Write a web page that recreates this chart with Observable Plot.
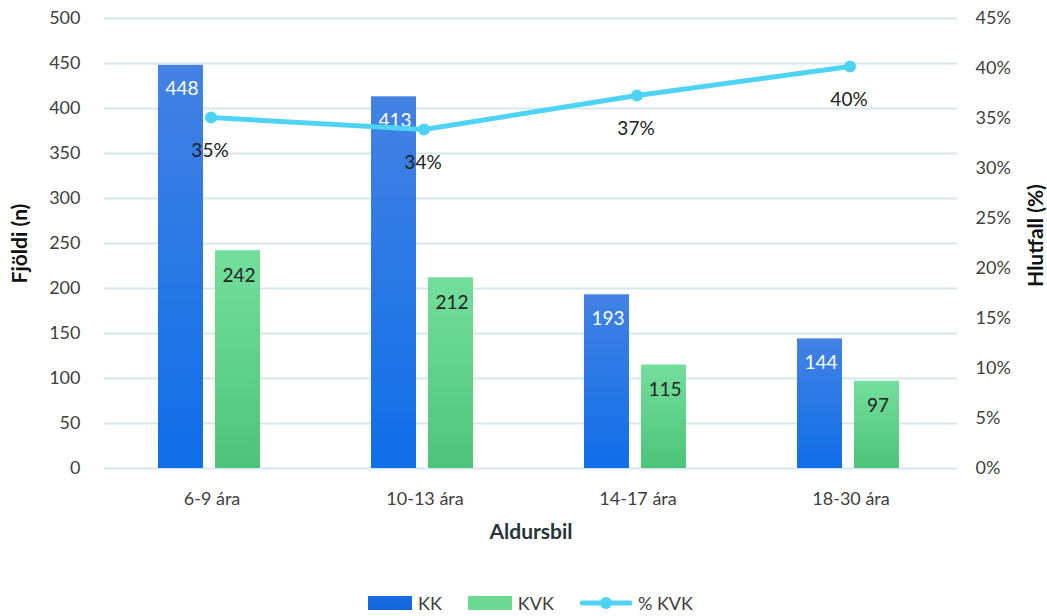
<!DOCTYPE html>
<html><head><meta charset="utf-8">
<script src="https://cdn.jsdelivr.net/npm/d3@7"></script>
<script src="https://cdn.jsdelivr.net/npm/@observablehq/plot@0.6"></script>
<style>
body{margin:0;background:#fff;font-family:Lato,"Open Sans",sans-serif}
#legend{display:flex;justify-content:center;align-items:center;gap:26px;height:36px;font-size:18px;color:#404040;padding-left:14px;padding-top:5px}
.li{display:flex;align-items:center;gap:6px}
.sw{width:44px;height:14px}
</style>
</head><body>
<div id="chart"></div>
<div id="legend"></div>
<script>
const categories = ["6-9 ára","10-13 ára","14-17 ára","18-30 ára"];
const kk = [448,413,193,144];
const kvk = [242,212,115,97];
const pctKvk = [35.1,33.9,37.3,40.2];
const pctLabels = ["35%","34%","37%","40%"];
const yTicks = [0,50,100,150,200,250,300,350,400,450,500];
const pctTicks = [0,5,10,15,20,25,30,35,40,45];
const seriesNames = ["KK","KVK","% KVK"];

const k = 500/45; // right axis (%) mapped onto left axis scale
const rows = categories.map((c,i)=>({cat:c, kk:kk[i], kvk:kvk[i], pct:pctKvk[i]*k, plabel:pctLabels[i]}));

const chart = Plot.plot({
  width:1047, height:580,
  marginLeft:104, marginRight:90, marginTop:18, marginBottom:112,
  style:{fontFamily:"Lato, 'Open Sans', sans-serif", fontSize:"18px", color:"#404040", background:"#fff"},
  x:{domain:categories, padding:0, label:null},
  y:{domain:[0,500], label:null},
  marks:[
    Plot.gridY(yTicks,{stroke:"#d5e7eb", strokeOpacity:1, strokeWidth:2}),
    Plot.barY(rows,{x:"cat", y:"kk", fill:"url(#gKK)", insetLeft:53, insetRight:115}),
    Plot.barY(rows,{x:"cat", y:"kvk", fill:"url(#gKVK)", insetLeft:110, insetRight:58}),
    Plot.text(rows,{x:"cat", y:"kk", text:d=>String(d.kk), dx:-30, dy:24, fill:"#fff", fontSize:19}),
    Plot.text(rows,{x:"cat", y:"kvk", text:d=>String(d.kvk), dx:27, dy:25, fill:"#222", fontSize:19}),
    Plot.line(rows,{x:"cat", y:"pct", stroke:"#4fd3f5", strokeWidth:5, dx:-1}),
    Plot.dot(rows,{x:"cat", y:"pct", r:6, fill:"#4fd3f5", dx:-1}),
    Plot.text(rows,{x:"cat", y:"pct", text:"plabel", dy:33, dx:-2, fill:"#222", fontSize:19}),
    Plot.axisY(yTicks,{anchor:"left", tickSize:0, tickPadding:24, label:null, fontSize:18, fill:"#404040"}),
    Plot.axisY(pctTicks.map(t=>t*k),{anchor:"right", tickSize:0, tickPadding:18, label:null, tickFormat:(d,i)=>pctTicks[i]+"%", fontSize:18, fill:"#404040", textAnchor:"start"}),
    Plot.axisX({tickSize:0, tickPadding:24, label:null, fontSize:18, fill:"#404040"}),
    Plot.text(["Aldursbil"],{frameAnchor:"bottom", dy:70, textAnchor:"middle", fontWeight:"bold", fontSize:21, fill:"#26343c"}),
    Plot.text(["Fjöldi (n)"],{frameAnchor:"left", dx:-84, rotate:-90, textAnchor:"middle", fontWeight:"bold", fontSize:21, fill:"#111"}),
    Plot.text(["Hlutfall (%)"],{frameAnchor:"right", dx:79, dy:-8, rotate:-90, textAnchor:"middle", fontWeight:"bold", fontSize:21, fill:"#111"})
  ]
});
const ns="http://www.w3.org/2000/svg";
const defs=document.createElementNS(ns,"defs");
defs.innerHTML=`<linearGradient id="gKK" x1="0" y1="0" x2="0" y2="1"><stop offset="0" stop-color="#4382e3"/><stop offset="1" stop-color="#0f6ee9"/></linearGradient>
<linearGradient id="gKVK" x1="0" y1="0" x2="0" y2="1"><stop offset="0" stop-color="#74de9c"/><stop offset="1" stop-color="#4cc47a"/></linearGradient>`;
chart.insertBefore(defs, chart.firstChild);
document.getElementById("chart").appendChild(chart);

const lg=document.getElementById("legend");
lg.innerHTML=`<div class="li"><div class="sw" style="background:linear-gradient(#1a6fe6,#0f63dc)"></div>${seriesNames[0]}</div>
<div class="li"><div class="sw" style="background:#6cd992"></div>${seriesNames[1]}</div>
<div class="li"><svg width="52" height="14"><line x1="2" x2="50" y1="7" y2="7" stroke="#4fd3f5" stroke-width="5" stroke-linecap="round"/><circle cx="26" cy="7" r="6" fill="#4fd3f5"/></svg>${seriesNames[2]}</div>`;
</script>
</body></html>
